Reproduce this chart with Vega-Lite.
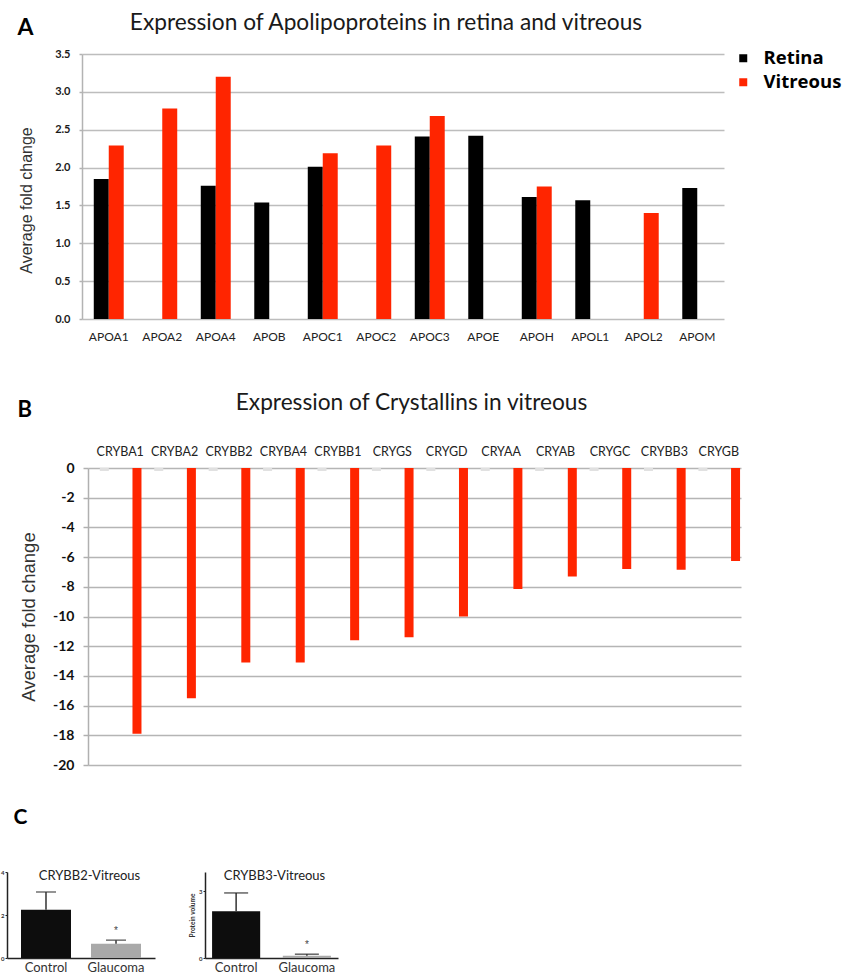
{
  "$schema": "https://vega.github.io/schema/vega-lite/v6.json",
  "background": "#ffffff",
  "padding": {"left": 0, "top": 12, "right": 0, "bottom": 0},
  "config": {
    "view": {"stroke": null},
    "axis": {"minExtent": 0, "labelFont": "Lato", "titleFont": "Lato"},
    "title": {"font": "Lato"},
    "legend": {"labelFont": "Lato"}
  },
  "datasets": {
    "apo": [
      {"gene": "APOA1", "tissue": "Retina", "value": 1.85},
      {"gene": "APOA1", "tissue": "Vitreous", "value": 2.29},
      {"gene": "APOA2", "tissue": "Vitreous", "value": 2.78},
      {"gene": "APOA4", "tissue": "Retina", "value": 1.76},
      {"gene": "APOA4", "tissue": "Vitreous", "value": 3.2},
      {"gene": "APOB", "tissue": "Retina", "value": 1.54},
      {"gene": "APOC1", "tissue": "Retina", "value": 2.01},
      {"gene": "APOC1", "tissue": "Vitreous", "value": 2.19},
      {"gene": "APOC2", "tissue": "Vitreous", "value": 2.29},
      {"gene": "APOC3", "tissue": "Retina", "value": 2.41},
      {"gene": "APOC3", "tissue": "Vitreous", "value": 2.68},
      {"gene": "APOE", "tissue": "Retina", "value": 2.42},
      {"gene": "APOH", "tissue": "Retina", "value": 1.61},
      {"gene": "APOH", "tissue": "Vitreous", "value": 1.75},
      {"gene": "APOL1", "tissue": "Retina", "value": 1.57},
      {"gene": "APOL2", "tissue": "Vitreous", "value": 1.4},
      {"gene": "APOM", "tissue": "Retina", "value": 1.73}
    ],
    "cry": [
      {"gene": "CRYBA1", "series": "Retina", "value": -0.2},
      {"gene": "CRYBA1", "series": "Vitreous", "value": -17.9},
      {"gene": "CRYBA2", "series": "Retina", "value": -0.2},
      {"gene": "CRYBA2", "series": "Vitreous", "value": -15.5},
      {"gene": "CRYBB2", "series": "Retina", "value": -0.2},
      {"gene": "CRYBB2", "series": "Vitreous", "value": -13.1},
      {"gene": "CRYBA4", "series": "Retina", "value": -0.2},
      {"gene": "CRYBA4", "series": "Vitreous", "value": -13.1},
      {"gene": "CRYBB1", "series": "Retina", "value": -0.2},
      {"gene": "CRYBB1", "series": "Vitreous", "value": -11.6},
      {"gene": "CRYGS", "series": "Retina", "value": -0.2},
      {"gene": "CRYGS", "series": "Vitreous", "value": -11.4},
      {"gene": "CRYGD", "series": "Retina", "value": -0.2},
      {"gene": "CRYGD", "series": "Vitreous", "value": -10.0},
      {"gene": "CRYAA", "series": "Retina", "value": -0.2},
      {"gene": "CRYAA", "series": "Vitreous", "value": -8.15},
      {"gene": "CRYAB", "series": "Retina", "value": -0.2},
      {"gene": "CRYAB", "series": "Vitreous", "value": -7.3},
      {"gene": "CRYGC", "series": "Retina", "value": -0.2},
      {"gene": "CRYGC", "series": "Vitreous", "value": -6.8},
      {"gene": "CRYBB3", "series": "Retina", "value": -0.2},
      {"gene": "CRYBB3", "series": "Vitreous", "value": -6.85},
      {"gene": "CRYGB", "series": "Retina", "value": -0.2},
      {"gene": "CRYGB", "series": "Vitreous", "value": -6.26}
    ],
    "bb2": [
      {"group": "Control", "value": 2.25, "upper": 3.07},
      {"group": "Glaucoma", "value": 0.66, "upper": 0.83, "sig": "*"}
    ],
    "bb3": [
      {"group": "Control", "value": 2.1, "upper": 2.92},
      {"group": "Glaucoma", "value": 0.1, "upper": 0.17, "sig": "*"}
    ]
  },
  "spacing": 50,
  "resolve": {"scale": {"color": "independent", "xOffset": "independent"}, "legend": {"color": "independent"}},
  "vconcat": [
    {
      "width": 642,
      "height": 265,
      "data": {"name": "apo"},
      "title": {"text": "Expression of Apolipoproteins in retina and vitreous", "frame": "group", "anchor": "middle", "dx": -17, "offset": -19, "fontSize": 22.7, "fontWeight": "normal", "color": "#1a1a1a"},
      "layer": [
        {
          "mark": {"type": "bar"},
          "encoding": {
            "x": {"field": "gene", "type": "nominal", "sort": null,
              "scale": {"paddingInner": 0.44, "paddingOuter": 0.22},
              "axis": {"title": null, "orient": "bottom", "labelAngle": 0, "ticks": false, "domain": false, "grid": false, "labelPadding": 12, "labelFontSize": 12, "labelColor": "#222222"}},
            "xOffset": {"field": "tissue", "type": "nominal", "scale": {"domain": ["Retina", "Vitreous"], "paddingInner": 0, "paddingOuter": 0}},
            "y": {"field": "value", "type": "quantitative", "scale": {"domain": [0, 3.5], "nice": false},
              "axis": {"title": "Average fold change", "titleFont": "Liberation Sans", "titleFontSize": 16, "titleFontWeight": "normal", "titleColor": "#333333", "titlePadding": 20, "titleY": 146,
                "values": [0, 0.5, 1, 1.5, 2, 2.5, 3, 3.5], "format": ".1f", "labelFontSize": 11, "labelFontWeight": "bold", "labelColor": "#1a1a1a", "labelPadding": 9,
                "tickSize": 3, "tickColor": "#b3b3b3", "tickWidth": 1.5, "domainColor": "#b3b3b3", "domainWidth": 1.5, "grid": true, "gridColor": "#bdbdbd", "gridWidth": 1.5}},
            "color": {"field": "tissue", "type": "nominal", "scale": {"domain": ["Retina", "Vitreous"], "range": ["#000000", "#ff2500"]},
              "legend": {"title": null, "orient": "none", "legendX": 652, "legendY": -5, "direction": "vertical", "symbolType": "square", "symbolSize": 64, "symbolStrokeWidth": 0,
                "labelFont": "Open Sans", "labelFontSize": 18.5, "labelFontWeight": "bold", "labelColor": "#000000", "labelOffset": 11, "rowPadding": 5, "padding": 0}}
          }
        },
        {
          "mark": {"type": "rule", "opacity": 0},
          "encoding": {
            "x": {"field": "gene", "type": "nominal", "sort": null,
              "axis": {"orient": "top", "labels": false, "ticks": false, "domain": false, "grid": false, "title": "A", "titleX": -65, "titleY": -27, "titleAlign": "left", "titleBaseline": "middle", "titleFontSize": 23, "titleFontWeight": "bold", "titleColor": "#000000"}}
          }
        }
      ],
      "resolve": {"axis": {"x": "independent"}}
    },
    {
      "spacing": 35,
      "resolve": {"scale": {"color": "independent", "xOffset": "independent"}, "legend": {"color": "independent"}},
      "vconcat": [
        {
          "width": 659,
          "height": 297,
          "data": {"name": "cry"},
          "title": {"text": "Expression of Crystallins in vitreous", "frame": "group", "anchor": "middle", "dx": 0, "offset": -17, "fontSize": 22.7, "fontWeight": "normal", "color": "#1a1a1a"},
          "mark": {"type": "bar", "width": 9},
          "encoding": {
            "x": {"field": "gene", "type": "nominal", "sort": null,
              "scale": {"range": [6, 659], "paddingInner": 0, "paddingOuter": 0},
              "axis": {"orient": "top", "labelAngle": 0, "ticks": false, "domain": false, "grid": false, "labelPadding": 10, "labelOffset": 5, "labelFontSize": 12.5, "labelColor": "#222222",
                "title": "B", "titleX": -65, "titleY": -59, "titleAlign": "left", "titleBaseline": "middle", "titleFontSize": 22, "titleFontWeight": "bold", "titleColor": "#000000"}},
            "xOffset": {"field": "series", "type": "nominal", "scale": {"domain": ["s0", "Retina", "s2", "s3", "Vitreous"], "paddingInner": 0, "paddingOuter": 0}},
            "y": {"field": "value", "type": "quantitative", "scale": {"domain": [-20, 0], "nice": false},
              "axis": {"title": "Average fold change", "titleFont": "Liberation Sans", "titleFontSize": 18.5, "titleFontWeight": "normal", "titleColor": "#333333", "titlePadding": 14, "offset": -6,
                "values": [-20, -18, -16, -14, -12, -10, -8, -6, -4, -2, 0], "labelExpr": "'' + datum.value", "labelFontSize": 14, "labelFontWeight": "bold", "labelColor": "#111111", "labelPadding": 9,
                "tickSize": 5, "tickColor": "#b0b0b0", "tickWidth": 1.5, "domainColor": "#b0b0b0", "domainWidth": 1.5, "grid": true, "gridColor": "#b5b5b5", "gridWidth": 1.5}},
            "color": {"field": "series", "type": "nominal", "scale": {"domain": ["Retina", "Vitreous"], "range": ["#e0e0e0", "#ff2500"]}, "legend": null}
          }
        },
        {
          "width": 256,
          "height": 86,
          "title": {"text": "C", "anchor": "start", "frame": "bounds", "dx": 13, "offset": 41, "fontSize": 21, "fontWeight": "bold", "color": "#000000"},
          "resolve": {"scale": {"x": "independent", "y": "independent"}, "axis": {"x": "independent", "y": "independent"}},
          "layer": [
            {
              "data": {"name": "bb2"},
              "encoding": {
                "x": {"field": "group", "type": "nominal", "sort": null, "scale": {"range": [-75, 73], "paddingInner": 0.286, "paddingOuter": 0.2},
                  "axis": {"orient": "bottom", "title": "CRYBB2-Vitreous", "titleX": 7, "titleY": -83, "titleAlign": "center", "titleBaseline": "middle", "titleFontSize": 13, "titleFontWeight": "normal", "titleColor": "#222222",
                    "labelAngle": 0, "ticks": false, "grid": false, "domainColor": "#222222", "domainWidth": 1.5, "labelFontSize": 13, "labelColor": "#333333", "labelPadding": 3}}
              },
              "layer": [
                {
                  "mark": {"type": "bar"},
                  "encoding": {
                    "y": {"field": "value", "type": "quantitative", "title": null, "scale": {"domain": [0, 4], "nice": false},
                      "axis": {"orient": "left", "title": null, "offset": 75, "values": [0, 1, 2, 3, 4], "grid": false, "labelFontSize": 6, "labelFontWeight": "bold", "labelColor": "#333333", "labelPadding": 1, "tickSize": 2, "tickColor": "#222222", "domainColor": "#222222", "domainWidth": 1.5}},
                    "color": {"field": "group", "type": "nominal", "scale": {"domain": ["Control", "Glaucoma"], "range": ["#0d0d0d", "#a9a9a9"]}, "legend": null}
                  }
                },
                {
                  "mark": {"type": "rule", "strokeWidth": 1.5, "color": "#333333"},
                  "encoding": {
                    "y": {"field": "value", "type": "quantitative", "title": null},
                    "y2": {"field": "upper"}
                  }
                },
                {
                  "mark": {"type": "tick", "thickness": 1.5, "size": 20, "color": "#333333", "orient": "horizontal"},
                  "encoding": {"y": {"field": "upper", "type": "quantitative", "title": null}}
                },
                {
                  "transform": [{"filter": "datum.sig"}],
                  "mark": {"type": "text", "dy": -9, "fontSize": 10, "color": "#444444"},
                  "encoding": {"y": {"field": "upper", "type": "quantitative", "title": null}, "text": {"field": "sig"}}
                }
              ]
            },
            {
              "data": {"name": "bb3"},
              "encoding": {
                "x": {"field": "group", "type": "nominal", "sort": null, "scale": {"range": [123, 256], "paddingInner": 0.32, "paddingOuter": 0.1},
                  "axis": {"orient": "bottom", "title": "CRYBB3-Vitreous", "titleX": 192, "titleY": -83, "titleAlign": "center", "titleBaseline": "middle", "titleFontSize": 13, "titleFontWeight": "normal", "titleColor": "#222222",
                    "labelAngle": 0, "ticks": false, "grid": false, "domainColor": "#222222", "domainWidth": 1.5, "labelFontSize": 13, "labelColor": "#333333", "labelPadding": 3}}
              },
              "layer": [
                {
                  "mark": {"type": "bar"},
                  "encoding": {
                    "y": {"field": "value", "type": "quantitative", "title": "Protein volume", "scale": {"domain": [0, 3.86], "nice": false},
                      "axis": {"orient": "left", "title": "Protein volume", "offset": -123, "titleFontSize": 6.5, "titleFontWeight": "bold", "titleColor": "#333333", "titlePadding": 3, "values": [0, 1, 2, 3], "grid": false, "labelFontSize": 6, "labelFontWeight": "bold", "labelColor": "#333333", "labelPadding": 1, "tickSize": 2, "tickColor": "#222222", "domainColor": "#222222", "domainWidth": 1.5}},
                    "color": {"field": "group", "type": "nominal", "scale": {"domain": ["Control", "Glaucoma"], "range": ["#0d0d0d", "#a9a9a9"]}, "legend": null}
                  }
                },
                {
                  "mark": {"type": "rule", "strokeWidth": 1.5, "color": "#333333"},
                  "encoding": {
                    "y": {"field": "value", "type": "quantitative", "title": "Protein volume"},
                    "y2": {"field": "upper"}
                  }
                },
                {
                  "mark": {"type": "tick", "thickness": 1.5, "size": 24, "color": "#222222", "orient": "horizontal"},
                  "encoding": {"y": {"field": "upper", "type": "quantitative", "title": "Protein volume"}}
                },
                {
                  "transform": [{"filter": "datum.sig"}],
                  "mark": {"type": "text", "dy": -9, "fontSize": 10, "color": "#444444"},
                  "encoding": {"y": {"field": "upper", "type": "quantitative", "title": "Protein volume"}, "text": {"field": "sig"}}
                }
              ]
            }
          ]
        }
      ]
    }
  ]
}
